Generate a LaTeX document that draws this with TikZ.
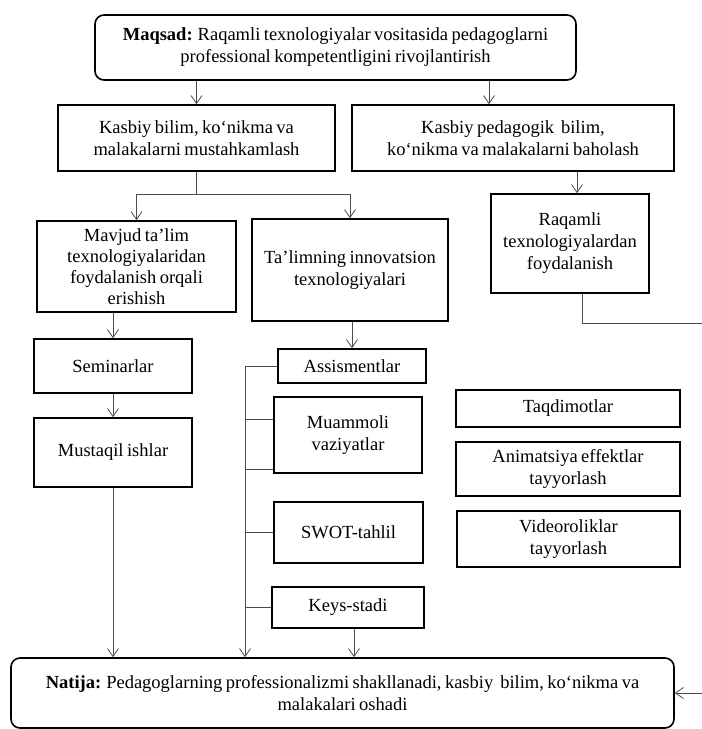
\documentclass[tikz,border=0pt]{standalone}
\usepackage{fontspec}
\setmainfont{Liberation Serif}[WordSpace=0.75]
\usetikzlibrary{arrows.meta}
\tikzset{
  box/.style={draw=black, line width=1.6pt, inner sep=0pt, align=center,
    font=\fontsize{18.5}{22}\selectfont},
  rbox/.style={box, rounded corners=9pt},
  line/.style={draw=black!70, line width=0.8pt},
  conn/.style={line, -{Straight Barb[length=8pt,width=11pt,line width=0.8pt]}},
}
\begin{document}
\begin{tikzpicture}[x=1pt,y=-1pt]
\useasboundingbox (0,0) rectangle (702,729);
% nodes
\node[rbox, minimum width=481pt, minimum height=65pt] (top) at (335.5,47.5)
  {\textbf{Maqsad:} Raqamli texnologiyalar vositasida pedagoglarni\\professional kompetentligini rivojlantirish};
\node[box, minimum width=277pt, minimum height=66pt] (k1) at (196.5,138)
  {Kasbiy bilim, ko‘nikma va\\malakalarni mustahkamlash};
\node[box, minimum width=322pt, minimum height=66pt] (k2) at (513,138)
  {Kasbiy pedagogik\ \ bilim,\\ko‘nikma va malakalarni baholash};
\node[box, minimum width=199pt, minimum height=91pt, font=\fontsize{18.5}{21}\selectfont] (mav) at (136.5,266.5)
  {Mavjud ta’lim\\texnologiyalaridan\\foydalanish orqali\\erishish};
\node[box, minimum width=196pt, minimum height=102pt] (tal) at (350,270)
  {Ta’limning innovatsion\\texnologiyalari};
\node[box, minimum width=158pt, minimum height=99pt] (raq) at (570,243.5)
  {Raqamli\\texnologiyalardan\\foydalanish};
\node[box, minimum width=158pt, minimum height=54pt] (sem) at (113,366) {Seminarlar};
\node[box, minimum width=158pt, minimum height=69pt] (mus) at (113,452.5) {Mustaqil ishlar};
\node[box, minimum width=148pt, minimum height=34pt] (ass) at (352,366) {Assismentlar};
\node[box, minimum width=148pt, minimum height=76pt] (mua) at (348,435) {Muammoli\\vaziyatlar};
\node[box, minimum width=149pt, minimum height=61pt] (swot) at (348.5,532.5) {SWOT-tahlil};
\node[box, minimum width=152pt, minimum height=41pt] (keys) at (348,607.5) {Keys-stadi};
\node[box, minimum width=224pt, minimum height=37pt] (taq) at (568,408.5) {Taqdimotlar};
\node[box, minimum width=224pt, minimum height=54pt] (ani) at (568,469) {Animatsiya effektlar\\tayyorlash};
\node[box, minimum width=223pt, minimum height=56pt] (vid) at (568.5,539) {Videoroliklar\\tayyorlash};
\node[rbox, minimum width=663pt, minimum height=70pt] (nat) at (342.5,693)
  {\textbf{Natija:} Pedagoglarning professionalizmi shakllanadi, kasbiy\ \ bilim, ko‘nikma va\\malakalari oshadi};
% helper coordinates
\coordinate (xa) at (489,0);
\coordinate (xb) at (577,0);
\coordinate (xc) at (582,0);
\coordinate (xk) at (354,0);
\coordinate (sp) at (196.5,194);
\coordinate (bus) at (245,0);
\coordinate (m1) at (245,419);
\coordinate (m2) at (245,469);
\coordinate (er1) at (702,323);
\coordinate (er2) at (702,693);
% connectors
\draw[conn] (top.south -| k1.north) -- (k1.north);
\draw[conn] (top.south -| xa) -- (k2.north -| xa);
\draw[line] (k1.south) -- (sp);
\draw[conn] (sp) -| (mav.north);
\draw[conn] (sp) -| (tal.north);
\draw[conn] (k2.south -| xb) -- (raq.north -| xb);
\draw[line] (raq.south -| xc) |- (er1);
\draw[conn] (er2) -- (nat.east);
\draw[conn] (mav.south -| sem.north) -- (sem.north);
\draw[conn] (sem.south) -- (mus.north);
\draw[conn] (mus.south) -- (nat.north -| mus.south);
\draw[conn] (tal.south -| ass.north) -- (ass.north);
\draw[conn] (ass.west) -| (nat.north -| bus);
\draw[line] (m1) -- (m1 -| mua.west);
\draw[line] (m2) -- (m2 -| mua.west);
\draw[line] (swot.west -| bus) -- (swot.west);
\draw[line] (keys.west -| bus) -- (keys.west);
\draw[conn] (keys.south -| xk) -- (nat.north -| xk);
\end{tikzpicture}
\end{document}
